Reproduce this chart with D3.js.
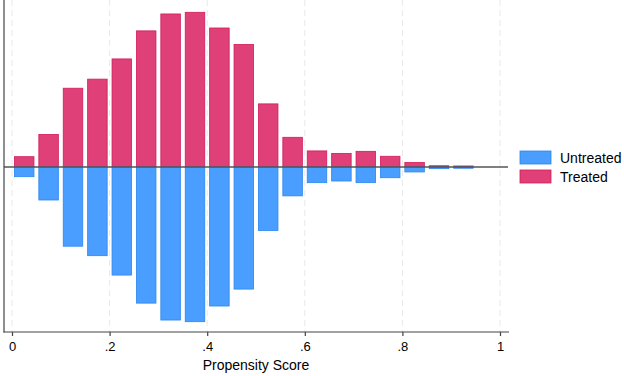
<!DOCTYPE html>
<html>
<head>
<meta charset="utf-8">
<script src="https://cdn.jsdelivr.net/npm/d3@7"></script>
<style>
  body { margin: 0; background: #fff; }
  svg { display: block; font-family: "Liberation Sans", Arial, Helvetica, sans-serif; }
</style>
</head>
<body>
<svg id="drawing_region"></svg>
<script>
// bin midpoints (bin width 0.05)
const binMids = [0.025, 0.075, 0.125, 0.175, 0.225, 0.275, 0.325, 0.375, 0.425, 0.475,
                 0.525, 0.575, 0.625, 0.675, 0.725, 0.775, 0.825, 0.875, 0.925];
// density values
const treated = [0.25, 0.79, 1.91, 2.13, 2.62, 3.30, 3.71, 3.75, 3.37, 2.97,
                 1.53, 0.72, 0.39, 0.33, 0.38, 0.26, 0.11, 0.03, 0.025];
const untreated = [0.235, 0.80, 1.92, 2.15, 2.62, 3.30, 3.71, 3.75, 3.37, 2.96,
                   1.54, 0.70, 0.38, 0.34, 0.38, 0.26, 0.12, 0.04, 0.03];
const xTicks = [0, 0.2, 0.4, 0.6, 0.8, 1];
const xTickLabels = ["0", ".2", ".4", ".6", ".8", "1"];
const legendLabels = ["Untreated", "Treated"];

const config = {
    width: 624,
    height: 376,
    barWidth: 0.04,
    colors: {
        treated: { fill: "#de4077", stroke: "#d41a5c" },
        untreated: { fill: "#4a9eff", stroke: "#2a86ee" }
    }
};

const svg = d3.select('#drawing_region')
    .attr('width', config.width)
    .attr('height', config.height);

const xscale = d3.scaleLinear().domain([0, 1]).range([12, 500]);
const yscale = d3.scaleLinear().domain([-4, 4]).range([332, 2]);

// dashed vertical grid
svg.append('g')
    .selectAll('line')
    .data(xTicks)
    .enter()
    .append('line')
    .attr('x1', d => xscale(d))
    .attr('x2', d => xscale(d))
    .attr('y1', 0)
    .attr('y2', 332)
    .attr('stroke', '#e8e8e8')
    .attr('stroke-width', 1)
    .attr('stroke-dasharray', '6,4');

const halfW = (xscale(config.barWidth) - xscale(0)) / 2;

// treated bars (up)
svg.append('g')
    .selectAll('rect')
    .data(binMids.map((m, i) => ({ x: m, v: treated[i] })))
    .enter()
    .append('rect')
    .attr('x', d => xscale(d.x) - halfW)
    .attr('width', halfW * 2)
    .attr('y', d => yscale(d.v))
    .attr('height', d => yscale(0) - yscale(d.v))
    .attr('fill', config.colors.treated.fill)
    .attr('stroke', config.colors.treated.stroke)
    .attr('stroke-width', 0.8);

// untreated bars (down, mirrored)
svg.append('g')
    .selectAll('rect')
    .data(binMids.map((m, i) => ({ x: m, v: untreated[i] })))
    .enter()
    .append('rect')
    .attr('x', d => xscale(d.x) - halfW)
    .attr('width', halfW * 2)
    .attr('y', yscale(0))
    .attr('height', d => yscale(-d.v) - yscale(0))
    .attr('fill', config.colors.untreated.fill)
    .attr('stroke', config.colors.untreated.stroke)
    .attr('stroke-width', 0.8);

// zero line
svg.append('line')
    .attr('x1', 4).attr('x2', 508)
    .attr('y1', yscale(0)).attr('y2', yscale(0))
    .attr('stroke', '#555')
    .attr('stroke-width', 1.3);

// y axis line (no labels)
svg.append('line')
    .attr('x1', 4).attr('x2', 4)
    .attr('y1', 0).attr('y2', 332.5)
    .attr('stroke', '#444')
    .attr('stroke-width', 1.2);

// x axis
const xaxis = d3.axisBottom(xscale)
    .tickValues(xTicks)
    .tickFormat((d, i) => xTickLabels[i])
    .tickSize(4)
    .tickPadding(6)
    .tickSizeOuter(0);

const xaxis_group = svg.append('g')
    .attr('transform', 'translate(0, 332)')
    .call(xaxis);
xaxis_group.select('.domain').remove();
xaxis_group.selectAll('.tick line').attr('stroke', '#444').attr('stroke-width', 1.2);
xaxis_group.selectAll('.tick text')
    .attr('fill', '#000')
    .style('font-size', '13px')
    .style('font-family', '"Liberation Sans", Arial, sans-serif');

svg.append('line')
    .attr('x1', 3.5).attr('x2', 509)
    .attr('y1', 332).attr('y2', 332)
    .attr('stroke', '#444')
    .attr('stroke-width', 1.2);

// x label
svg.append('text')
    .attr('x', (xscale(0) + xscale(1)) / 2)
    .attr('y', 370)
    .attr('text-anchor', 'middle')
    .style('font-size', '14px')
    .text('Propensity Score');

// legend
const legendColors = [config.colors.untreated, config.colors.treated];
const legend = svg.append('g').attr('transform', 'translate(520, 151)');
legendLabels.forEach((lab, i) => {
    const g = legend.append('g').attr('transform', `translate(0, ${i * 19})`);
    g.append('rect')
        .attr('width', 31).attr('height', 13)
        .attr('fill', legendColors[i].fill)
        .attr('stroke', legendColors[i].stroke)
        .attr('stroke-width', 0.8);
    g.append('text')
        .attr('x', 40).attr('y', 11.5)
        .style('font-size', '14px')
        .text(lab);
});
</script>
</body>
</html>
